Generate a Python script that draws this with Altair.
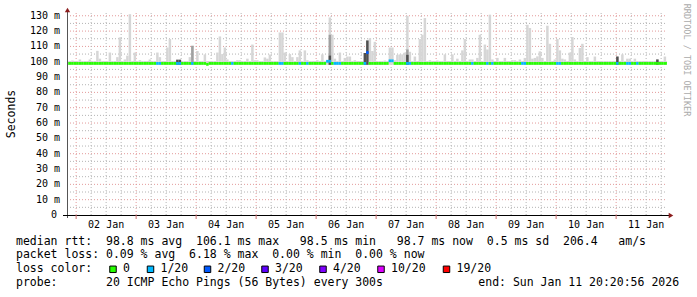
import altair as alt
import pandas as pd

# ---------------- data ----------------
START_H = 20 + 20 / 60 + 56 / 3600          # Jan 1 20:20:56 (hours since Jan 1 00:00)
END_H = START_H + 240                        # Jan 11 20:20:56
Y_MAX = 131.8

day_bounds = [24, 48, 72, 96, 120, 144, 168, 192, 216, 240]
day_label_hours = [36, 60, 84, 108, 132, 156, 180, 204, 228, 252]
day_labels = ["02 Jan", "03 Jan", "04 Jan", "05 Jan", "06 Jan",
              "07 Jan", "08 Jan", "09 Jan", "10 Jan", "11 Jan"]
y_tick_values = [10, 20, 30, 40, 50, 60, 70, 80, 90, 100, 110, 120, 130]
y_tick_labels = ["10 m", "20 m", "30 m", "40 m", "50 m", "60 m", "70 m",
                 "80 m", "90 m", "100 m", "110 m", "120 m", "130 m"]
minor_y = [5, 15, 25, 35, 45, 55, 65, 75, 85, 95, 105, 115, 125]

median_default = 98.9
smoke_default = 100.5

# light smoke (max rtt) per hourly bin
spike_hours = [22, 25, 29, 32, 33, 37, 40, 41, 43, 44, 45, 47, 49, 53, 56, 57, 60, 61, 64, 65,
               69, 70, 72, 75, 80, 81, 82, 83, 84, 88, 89, 92, 94, 95, 96, 99, 100, 101, 105, 106,
               107, 109, 110, 112, 113, 115, 116, 120, 122, 125, 126, 127, 129, 131, 132, 133, 135,
               139, 140, 141, 142, 143, 147, 149, 150, 151, 152, 153, 154, 155, 156, 157, 159, 161,
               162, 163, 165, 168, 171, 174, 176, 178, 179, 181, 182, 184, 185, 187, 188, 189, 190,
               192, 195, 198, 199, 201, 203, 204, 205, 206, 207, 208, 209, 210, 212, 213, 215, 216,
               217, 218, 219, 221, 222, 223, 225, 226, 228, 231, 240, 242, 244, 245, 247, 256, 259]
spike_tops = [100.8, 101.5, 101.5, 107.1, 102, 106, 103, 115.9, 101.5, 104, 131, 106, 101, 101.5,
              106, 103, 109.3, 114.8, 101.5, 101.5, 103, 110.4, 107, 104.8, 106, 116.5, 105, 109.3,
              101.5, 101, 101, 102, 111.2, 101, 101, 102.8, 102, 104.7, 119.1, 119.1, 106, 105, 103,
              103, 107.4, 107.4, 101, 101, 104.8, 128.9, 117.6, 102, 106, 102.5, 103.4, 103.4, 101,
              105.7, 113.9, 115.4, 107, 113, 100.8, 109.3, 109.3, 101, 104.5, 104.8, 104.8, 106, 130,
              106.5, 103.4, 114.8, 117.6, 128.5, 101, 100.8, 104.8, 104.8, 102, 107.4, 114.8, 101.5,
              101.5, 102.5, 117.6, 111.2, 108, 130.7, 101.5, 102.5, 102.5, 101, 101, 101.5, 102.5,
              124.1, 122, 102, 102.5, 103.5, 106.8, 102.5, 123.5, 111.7, 101.5, 114.8, 107.4, 102,
              101.5, 106, 116.1, 101.5, 109, 111.7, 103, 103.4, 103.4, 104.8, 102, 102, 102, 101.5,
              103.4]

# middle grey smoke
mid_hours = [70, 125, 156]
mid_tops = [110.4, 117.6, 108.0]

# dark grey smoke
dark_hours = [64, 65, 125, 139, 140, 156, 240, 256]
dark_tops = [101.3, 101.3, 104.0, 105.7, 113.9, 104.5, 103.4, 101.5]

# median rtt deviations from the flat line
median_hours = [76, 124, 125, 140, 149, 150]
median_values = [98.3, 100.3, 100.3, 106.0, 100.6, 100.6]

# packet loss per hour (lost pings of 20)
loss_hours = [56, 57, 64, 65, 70, 86, 105, 106, 113, 116, 124, 125, 127, 128, 129, 139, 140,
              149, 150, 156, 157, 182, 188, 190, 202, 203, 216, 217, 240, 244, 245, 248]
loss_counts = [1, 1, 1, 1, 1, 1, 1, 1, 1, 1, 1, 1, 1, 1, 1, 1, 2,
               1, 1, 1, 1, 1, 1, 1, 1, 1, 1, 1, 1, 1, 1, 1]

loss_labels = ["0", "1/20", "2/20", "3/20", "4/20", "10/20", "19/20"]
loss_colors = ["#26ff00", "#00b8ff", "#0059ff", "#5e00ff", "#7e00ff", "#dd00ff", "#ff0000"]
count_to_label = {0: "0", 1: "1/20", 2: "2/20", 3: "3/20", 4: "4/20", 10: "10/20", 19: "19/20"}

legend_line1 = "median rtt:  98.8 ms avg  106.1 ms max   98.5 ms min   98.7 ms now  0.5 ms sd  206.4   am/s"
legend_line2 = "packet loss: 0.09 % avg  6.18 % max  0.00 % min  0.00 % now"
legend_line3 = "loss color:"
legend_line4 = "probe:       20 ICMP Echo Pings (56 Bytes) every 300s"
end_text = "end: Sun Jan 11 20:20:56 2026"
y_title = "Seconds"
watermark = "RRDTOOL / TOBI OETIKER"


def keep_spaces(s):
    # SVG collapses runs of spaces; non-breaking spaces keep the monospace columns
    return s.replace(" ", "\u00a0")


# ---------------- tables ----------------
spike = dict(zip(spike_hours, spike_tops))
mid = dict(zip(mid_hours, mid_tops))
dark = dict(zip(dark_hours, dark_tops))
med = dict(zip(median_hours, median_values))
loss = dict(zip(loss_hours, loss_counts))

rows = []
for h in range(20, 261):
    x0, x1 = max(h, START_H), min(h + 1, END_H)
    if x1 <= x0:
        continue
    m = med.get(h, median_default)
    rows.append(dict(x0=x0, x1=x1, smoke=spike.get(h, smoke_default),
                     mid=mid.get(h), dark=dark.get(h), base=98.0,
                     mlo=m - 0.9, mhi=m + 0.9,
                     loss=count_to_label[loss.get(h, 0)]))
df = pd.DataFrame(rows)
df_mid = df.dropna(subset=["mid"])
df_dark = df.dropna(subset=["dark"])

W, H = 600, 202
xs = alt.Scale(domain=[START_H, END_H], nice=False, zero=False)
ys = alt.Scale(domain=[0, Y_MAX], nice=False, zero=False)
MONO = "DejaVu Sans Mono"
MINOR_C = "#b4b4b4"
MAJOR_C = "#e39a9a"

minor_x = [h for h in range(24, 261, 6) if h % 24 != 0 and h <= END_H]

grid_minor_h = alt.Chart(pd.DataFrame({"v": minor_y})).mark_rule(
    color=MINOR_C, strokeDash=[1, 2], strokeWidth=1).encode(
    y=alt.Y("v:Q", scale=ys, axis=None), x=alt.value(0), x2=alt.value(W))
grid_major_h = alt.Chart(pd.DataFrame({"v": y_tick_values})).mark_rule(
    color=MAJOR_C, strokeDash=[1, 2], strokeWidth=1).encode(
    y=alt.Y("v:Q", scale=ys, axis=None), x=alt.value(0), x2=alt.value(W))
grid_minor_v = alt.Chart(pd.DataFrame({"h": minor_x})).mark_rule(
    color=MINOR_C, strokeDash=[1, 2], strokeWidth=1).encode(
    x=alt.X("h:Q", scale=xs, axis=None), y=alt.value(0), y2=alt.value(H))
grid_major_v = alt.Chart(pd.DataFrame({"h": day_bounds})).mark_rule(
    color=MAJOR_C, strokeDash=[1, 2], strokeWidth=1).encode(
    x=alt.X("h:Q", scale=xs, axis=None), y=alt.value(0), y2=alt.value(H))
day_ticks = alt.Chart(pd.DataFrame({"h": day_bounds})).mark_rule(
    color="#d07070", strokeWidth=1).encode(
    x=alt.X("h:Q", scale=xs, axis=None), y=alt.value(H), y2=alt.value(H + 4))

smoke_light = alt.Chart(df).mark_rect(color="#d6d6d6").encode(
    x=alt.X("x0:Q", scale=xs, axis=None), x2="x1:Q",
    y=alt.Y("base:Q", scale=ys, axis=None), y2="smoke:Q")
smoke_mid = alt.Chart(df_mid).mark_rect(color="#a0a0a0").encode(
    x=alt.X("x0:Q", scale=xs, axis=None), x2="x1:Q",
    y=alt.Y("base:Q", scale=ys, axis=None), y2="mid:Q")
smoke_dark = alt.Chart(df_dark).mark_rect(color="#505050").encode(
    x=alt.X("x0:Q", scale=xs, axis=None), x2="x1:Q",
    y=alt.Y("base:Q", scale=ys, axis=None), y2="dark:Q")
median = alt.Chart(df).mark_rect().encode(
    x=alt.X("x0:Q", scale=xs, axis=None), x2="x1:Q",
    y=alt.Y("mlo:Q", scale=ys, axis=None), y2="mhi:Q",
    color=alt.Color("loss:N", scale=alt.Scale(domain=loss_labels, range=loss_colors), legend=None))

y_axis = alt.Chart(pd.DataFrame({"a": [0]})).mark_rule(color="#555555", strokeWidth=1).encode(
    x=alt.value(0.5), y=alt.value(-3), y2=alt.value(H + 3))
x_axis = alt.Chart(pd.DataFrame({"a": [0]})).mark_rule(color="#000000", strokeWidth=1).encode(
    x=alt.value(-4), x2=alt.value(602), y=alt.value(H + 0.5))
arrow_up = alt.Chart(pd.DataFrame({"a": [0]})).mark_point(
    shape="triangle-up", filled=True, color="#8b1c1c", size=28, opacity=1).encode(
    x=alt.value(0.5), y=alt.value(-3))
arrow_right = alt.Chart(pd.DataFrame({"a": [0]})).mark_point(
    shape="triangle-right", filled=True, color="#8b1c1c", size=28, opacity=1).encode(
    x=alt.value(604), y=alt.value(H + 0.5))

ylab = alt.Chart(pd.DataFrame({"v": y_tick_values, "t": y_tick_labels})).mark_text(
    font=MONO, fontSize=10, align="right", baseline="middle", color="#000000").encode(
    y=alt.Y("v:Q", scale=ys, axis=None), x=alt.value(-7), text="t:N")
ylab0 = alt.Chart(pd.DataFrame({"v": [0], "t": ["0"]})).mark_text(
    font=MONO, fontSize=10, align="right", baseline="middle", color="#000000").encode(
    y=alt.Y("v:Q", scale=ys, axis=None), x=alt.value(-10), text="t:N")
xlab = alt.Chart(pd.DataFrame({"h": day_label_hours, "t": [keep_spaces(s) for s in day_labels]})).mark_text(
    font=MONO, fontSize=10, align="center", baseline="middle", color="#000000").encode(
    x=alt.X("h:Q", scale=xs, axis=None), y=alt.value(211.7), text="t:N")

title_y = alt.Chart(pd.DataFrame({"t": [y_title]})).mark_text(
    font=MONO, fontSize=11.5, angle=270, align="center", baseline="middle", color="#000000").encode(
    x=alt.value(-55.5), y=alt.value(101), text="t:N")
wm = alt.Chart(pd.DataFrame({"t": [keep_spaces(watermark)]})).mark_text(
    font=MONO, fontSize=8.5, angle=90, align="center", baseline="middle", color="#aaaaaa").encode(
    x=alt.value(620), y=alt.value(47), text="t:N")

LX = -51
legend_rows = pd.DataFrame({
    "t": [keep_spaces(s) for s in [legend_line1, legend_line2, legend_line3, legend_line4]],
    "py": [228.7, 242.0, 256.3, 270.3],
})
legend_txt = alt.Chart(legend_rows).mark_text(
    font=MONO, fontSize=11.5, align="left", baseline="middle", color="#000000").encode(
    x=alt.value(LX), y=alt.Y("py:Q", scale=None), text="t:N")
end_txt = alt.Chart(pd.DataFrame({"t": [keep_spaces(end_text)]})).mark_text(
    font=MONO, fontSize=11.5, align="left", baseline="middle", color="#000000").encode(
    x=alt.value(411.3), y=alt.value(270.3), text="t:N")

sq_x = [46, 83.5, 140.5, 198, 256, 314, 379.5]     # layout of legend boxes
box_df = pd.DataFrame({"lab": loss_labels, "px": sq_x, "tx": [p + 10 for p in sq_x]})
boxes = alt.Chart(box_df).mark_square(size=42, stroke="#000000", strokeWidth=1, opacity=1).encode(
    x=alt.X("px:Q", scale=None), y=alt.value(256.3),
    fill=alt.Fill("lab:N", scale=alt.Scale(domain=loss_labels, range=loss_colors), legend=None))
box_txt = alt.Chart(box_df).mark_text(
    font=MONO, fontSize=11.5, align="left", baseline="middle", color="#000000").encode(
    x=alt.X("tx:Q", scale=None), y=alt.value(256.3), text="lab:N")

chart = alt.layer(
    grid_minor_h, grid_major_h, grid_minor_v, grid_major_v,
    smoke_light, smoke_mid, smoke_dark, median,
    y_axis, x_axis, day_ticks, arrow_up, arrow_right,
    ylab, ylab0, xlab, title_y, wm, legend_txt, end_txt, boxes, box_txt,
).resolve_scale(color="independent", fill="independent").properties(
    width=W, height=H,
    autosize=alt.AutoSizeParams(type="none"),
    padding={"left": 67, "top": 13, "right": 30, "bottom": 82},
    background="#ffffff",
).configure_view(stroke=None)

chart.save("out.html", embed_options={"renderer": "svg", "actions": False})
